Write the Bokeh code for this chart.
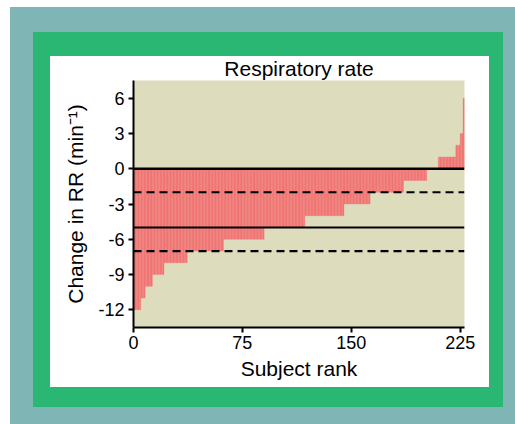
import numpy as np
from bokeh.plotting import figure
from bokeh.models import Range1d, FixedTicker, Span, ColumnDataSource, CustomJSTickFormatter
from bokeh.embed import file_html
from bokeh.resources import INLINE

# Data: sorted change in RR per subject, as run lengths
change_levels = [-12, -11, -10, -9, -8, -7, -6, -5, -4, -3, -2, -1, 0, 1, 2, 3, 6]
subject_counts = [5, 3, 5, 8, 16, 25, 28, 28, 27, 18, 23, 16, 8, 12, 3, 2, 1]

mean_change = -5
limit_lines = [-2, -7]
y_ticks = [-12, -9, -6, -3, 0, 3, 6]
x_ticks = [0, 75, 150, 225]

values = np.repeat(change_levels, subject_counts)
ranks = np.arange(len(values)) + 0.5
src = ColumnDataSource(dict(rank=ranks, change=values))

FONT = "Liberation Sans"
TEAL = "#7FB6B5"
GREEN = "#2AB673"
BEIGE = "#DDDDBE"
RED = "#F06E6C"

bg_styles = {
    "background-image": (f"linear-gradient(#ffffff, #ffffff), "
                         f"linear-gradient({GREEN}, {GREEN}), "
                         f"linear-gradient({TEAL}, {TEAL})"),
    "background-position": "50px 56px, 33px 32px, 10px 7px",
    "background-size": "439px 331px, 470px 375px, 505px 417px",
    "background-repeat": "no-repeat",
    "background-color": "#ffffff",
}

p = figure(width=515, height=424, output_backend="svg", toolbar_location=None,
           x_range=Range1d(0, 228), y_range=Range1d(-13.5, 7.5),
           min_border_left=133, min_border_right=51, min_border_top=80, min_border_bottom=97,
           border_fill_color=None, border_fill_alpha=0,
           background_fill_color=BEIGE, outline_line_color=None,
           title="Respiratory rate", styles=bg_styles)

p.vbar(x="rank", top="change", bottom=0, width=1, source=src,
       fill_color=RED, line_color="#F38C8A", line_width=0.4)

p.add_layout(Span(location=0, dimension="width", line_color="black", line_width=2.5))
p.add_layout(Span(location=mean_change, dimension="width", line_color="black", line_width=2))
for v in limit_lines:
    p.add_layout(Span(location=v, dimension="width", line_color="black", line_width=2.2, line_dash="8 5"))

p.title.align = "center"
p.title.text_font = FONT
p.title.text_font_size = "21px"
p.title.text_font_style = "normal"
p.title.text_color = "black"
p.title.standoff = 1

p.grid.visible = False
p.xaxis.ticker = FixedTicker(ticks=x_ticks)
p.yaxis.ticker = FixedTicker(ticks=y_ticks)
for ax in (p.xaxis[0], p.yaxis[0]):
    ax.formatter = CustomJSTickFormatter(code="return String(Math.round(tick));")
    ax.axis_line_width = 2
    ax.major_tick_line_width = 2
    ax.major_tick_out = 5
    ax.major_tick_in = 0
    ax.minor_tick_line_color = None
    ax.major_label_text_font = FONT
    ax.major_label_text_font_size = "18px"
    ax.major_label_text_color = "black"
    ax.axis_label_text_font = FONT
    ax.axis_label_text_font_size = "21px"
    ax.axis_label_text_font_style = "normal"
    ax.axis_label_text_color = "black"
p.xaxis.axis_label = "Subject rank"
p.yaxis.axis_label = "Change in RR (min\u207b\u00b9)"
p.xaxis.major_label_standoff = 3
p.yaxis.major_label_standoff = 4
p.xaxis.axis_label_standoff = 5
p.yaxis.axis_label_standoff = 8

open("out.html", "w").write(file_html(p, INLINE))
